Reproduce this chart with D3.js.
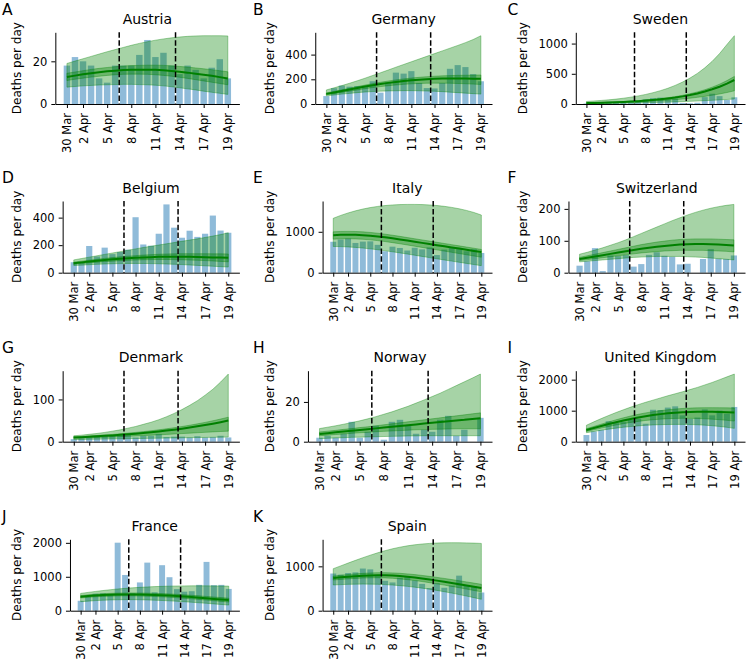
<!DOCTYPE html>
<html><head><meta charset="utf-8">
<script src="https://cdn.jsdelivr.net/npm/d3@7"></script>
<style>
body{margin:0;background:#fff}
svg{display:block}
text{font-family:"DejaVu Sans",sans-serif;fill:#000}
</style>
</head><body>
<svg id="chart" width="747" height="663"></svg>
<script>
// ---------------- data ----------------
const dayIndex = d3.range(21);
const tickIndex = [0, 2, 5, 8, 11, 14, 17, 20];
const tickLabels = ["30 Mar", "2 Apr", "5 Apr", "8 Apr", "11 Apr", "14 Apr", "17 Apr", "19 Apr"];
const dashedAt = [6.5, 13.5];

const countryNames = ["Austria", "Germany", "Sweden", "Belgium", "Italy", "Switzerland", "Denmark", "Norway", "United Kingdom", "France", "Spain"];
const panelLetters = ["A", "B", "C", "D", "E", "F", "G", "H", "I", "J", "K"];

const austriaDeaths = [18, 22, 20, 18, 12, 10, 18, 18, 18, 23, 30, 22, 24, 18, 14, 18, 16, 12, 17, 21, 12];
const austriaMean = [12.7, 13.3, 13.9, 14.4, 14.9, 15.3, 15.6, 15.9, 16.0, 16.1, 16.1, 16.0, 15.8, 15.5, 15.1, 14.7, 14.2, 13.7, 13.2, 12.6, 12.0];
const austriaInnerLo = [11.0, 11.6, 12.1, 12.6, 13.0, 13.4, 13.7, 13.9, 14.0, 14.0, 13.9, 13.7, 13.4, 13.0, 12.5, 12.0, 11.4, 10.8, 10.2, 9.6, 9.0];
const austriaInnerHi = [14.4, 15.0, 15.6, 16.2, 16.7, 17.1, 17.5, 17.8, 18.0, 18.1, 18.2, 18.2, 18.1, 17.9, 17.6, 17.3, 16.9, 16.5, 16.1, 15.6, 15.1];
const austriaOuterLo = [7.9, 8.2, 8.5, 8.7, 8.9, 9.0, 9.1, 9.2, 9.2, 9.1, 9.0, 8.8, 8.5, 8.1, 7.6, 7.1, 6.6, 6.0, 5.5, 5.0, 4.5];
const austriaOuterHi = [19.0, 20.1, 21.2, 22.3, 23.4, 24.5, 25.5, 26.5, 27.5, 28.4, 29.2, 29.9, 30.5, 31.0, 31.4, 31.7, 31.9, 32.0, 32.0, 32.0, 31.9];
const austriaTicks = [0, 20];

const germanyDeaths = [64, 128, 149, 140, 145, 141, 184, 92, 173, 254, 246, 266, 171, 129, 126, 170, 285, 315, 299, 242, 184];
const germanyMean = [82, 93, 105, 117, 129, 141, 152, 162, 171, 179, 186, 192, 197, 201, 204, 206, 207, 207, 206, 205, 204];
const germanyInnerLo = [74, 84, 94, 104, 114, 124, 133, 141, 148, 154, 159, 163, 166, 168, 169, 169, 168, 166, 164, 161, 158];
const germanyInnerHi = [90, 102, 115, 128, 141, 153, 165, 176, 186, 195, 203, 210, 216, 221, 225, 228, 230, 232, 233, 234, 235];
const germanyOuterLo = [66, 73, 80, 86, 92, 97, 101, 104, 106, 107, 108, 108, 107, 105, 103, 100, 96, 92, 88, 84, 80];
const germanyOuterHi = [114, 131, 149, 168, 188, 209, 231, 253, 275, 298, 320, 342, 364, 386, 408, 430, 452, 474, 497, 522, 553];
const germanyTicks = [0, 200, 400];

const swedenDeaths = [8, 15, 20, 35, 30, 25, 30, 40, 76, 96, 106, 77, 90, 17, 12, 20, 114, 170, 130, 67, 111];
const swedenMean = [15, 18, 21, 25, 29, 34, 40, 47, 56, 66, 77, 91, 107, 126, 149, 175, 206, 243, 286, 337, 397];
const swedenInnerLo = [12, 14, 17, 20, 23, 27, 31, 36, 42, 48, 55, 63, 72, 83, 96, 110, 126, 145, 166, 190, 218];
const swedenInnerHi = [17, 20, 24, 28, 33, 39, 46, 54, 64, 75, 88, 104, 122, 144, 170, 200, 236, 278, 328, 387, 456];
const swedenOuterLo = [6, 7, 8, 10, 12, 14, 16, 18, 21, 24, 27, 31, 35, 39, 44, 49, 55, 61, 68, 75, 82];
const swedenOuterHi = [42, 50, 59, 69, 81, 96, 113, 134, 158, 187, 221, 260, 308, 363, 429, 506, 598, 706, 834, 985, 1130];
const swedenTicks = [0, 500, 1000];

const belgiumDeaths = [76, 78, 194, 118, 182, 135, 150, 167, 403, 205, 196, 283, 496, 327, 254, 305, 260, 283, 415, 306, 290];
const belgiumMean = [69, 75, 81, 87, 92, 97, 101, 105, 108, 111, 113, 115, 116, 116, 116, 115, 114, 113, 111, 110, 108];
const belgiumInnerLo = [61, 66, 71, 76, 80, 84, 87, 90, 92, 94, 95, 96, 96, 95, 94, 92, 90, 88, 85, 82, 79];
const belgiumInnerHi = [77, 84, 91, 98, 104, 110, 115, 120, 124, 128, 131, 134, 136, 137, 138, 138, 138, 138, 137, 137, 136];
const belgiumOuterLo = [52, 55, 58, 61, 63, 65, 66, 67, 67, 67, 66, 65, 63, 61, 59, 56, 53, 50, 47, 44, 41];
const belgiumOuterHi = [93, 103, 113, 123, 133, 143, 153, 163, 173, 183, 192, 201, 210, 219, 228, 237, 246, 256, 266, 277, 290];
const belgiumTicks = [0, 200, 400];

const italyDeaths = [756, 812, 837, 727, 760, 766, 681, 525, 636, 604, 542, 610, 570, 619, 431, 566, 602, 578, 525, 575, 482];
const italyMean = [917, 925, 928, 926, 918, 905, 887, 865, 840, 813, 785, 757, 729, 701, 673, 645, 617, 589, 561, 533, 505];
const italyInnerLo = [820, 828, 830, 826, 817, 803, 784, 761, 735, 707, 678, 648, 618, 588, 558, 528, 498, 468, 438, 408, 378];
const italyInnerHi = [1000, 1008, 1010, 1007, 998, 984, 965, 942, 916, 888, 859, 830, 801, 772, 743, 714, 685, 656, 627, 598, 568];
const italyOuterLo = [640, 638, 630, 618, 602, 583, 561, 537, 511, 484, 456, 427, 398, 369, 340, 311, 283, 255, 227, 199, 172];
const italyOuterHi = [1330, 1400, 1460, 1512, 1556, 1592, 1620, 1641, 1656, 1665, 1669, 1669, 1665, 1656, 1642, 1622, 1596, 1563, 1522, 1472, 1410];
const italyTicks = [0, 1000];

const switzerlandDeaths = [22, 36, 77, 5, 54, 52, 55, 19, 27, 56, 64, 53, 50, 26, 28, 0, 43, 74, 44, 43, 54];
const switzerlandMean = [43, 47, 51, 55, 59, 63, 67, 71, 75, 78, 81, 84, 86, 88, 89, 90, 90, 89, 88, 87, 85];
const switzerlandInnerLo = [38, 41, 44, 47, 50, 53, 56, 59, 62, 64, 66, 68, 69, 70, 70, 70, 70, 69, 68, 67, 65];
const switzerlandInnerHi = [48, 53, 58, 63, 68, 73, 78, 83, 88, 92, 96, 99, 102, 104, 105, 106, 106, 106, 105, 104, 103];
const switzerlandOuterLo = [34, 36, 38, 40, 42, 44, 46, 48, 49, 50, 51, 51, 51, 51, 50, 49, 48, 46, 44, 42, 40];
const switzerlandOuterHi = [58, 64, 71, 78, 86, 94, 103, 113, 123, 133, 143, 153, 163, 172, 181, 189, 196, 202, 207, 211, 214];
const switzerlandTicks = [0, 100, 200];

const denmarkDeaths = [6, 8, 10, 12, 15, 14, 17, 18, 10, 14, 14, 18, 11, 12, 12, 10, 13, 10, 11, 14, 10];
const denmarkMean = [10, 10.8, 11.7, 12.7, 13.8, 14.9, 16.2, 17.6, 19.0, 20.6, 22.4, 24.2, 26.3, 28.5, 30.9, 33.5, 36.3, 39.3, 42.6, 46.2, 50];
const denmarkInnerLo = [8, 8.6, 9.2, 9.8, 10.5, 11.2, 12, 12.8, 13.6, 14.5, 15.4, 16.3, 17.2, 18.2, 19.2, 20.2, 21.2, 22.2, 23.2, 24.1, 25];
const denmarkInnerHi = [11.5, 12.4, 13.4, 14.6, 15.9, 17.2, 18.7, 20.3, 22, 23.9, 25.9, 28.1, 30.5, 33.1, 35.9, 38.9, 42.2, 45.7, 49.5, 53.6, 58];
const denmarkOuterLo = [5, 5.3, 5.6, 5.9, 6.2, 6.5, 6.8, 7.1, 7.4, 7.7, 8, 8.3, 8.6, 8.9, 9.2, 9.5, 9.8, 10.1, 10.4, 10.7, 11];
const denmarkOuterHi = [14, 15.5, 17.5, 19.5, 22, 25, 28, 32, 36, 41, 46, 52, 59, 67, 76, 86, 97, 110, 124, 141, 160];
const denmarkTicks = [0, 100];

const norwayDeaths = [2, 3, 2, 4, 10, 2, 5, 8, 1, 10, 11, 8, 4, 6, 5, 11, 13, 3, 6, 0, 12];
const norwayMean = [3.9, 4.3, 4.7, 5.1, 5.5, 5.9, 6.3, 6.7, 7.1, 7.5, 7.9, 8.3, 8.7, 9.1, 9.5, 9.9, 10.3, 10.7, 11.0, 11.4, 11.8];
const norwayInnerLo = [3.0, 3.3, 3.6, 3.9, 4.2, 4.5, 4.7, 5.0, 5.2, 5.4, 5.6, 5.8, 6.0, 6.1, 6.2, 6.3, 6.4, 6.5, 6.5, 6.5, 6.5];
const norwayInnerHi = [4.9, 5.3, 5.7, 6.2, 6.6, 7.1, 7.5, 8.0, 8.5, 9.0, 9.5, 10.0, 10.5, 11.0, 11.5, 12.0, 12.5, 13.0, 13.5, 14.0, 14.5];
const norwayOuterLo = [1.5, 1.7, 1.9, 2.0, 2.2, 2.3, 2.4, 2.5, 2.6, 2.7, 2.8, 2.9, 2.9, 3.0, 3.0, 3.0, 3.0, 3.0, 3.0, 3.0, 3.0];
const norwayOuterHi = [6.6, 7.3, 8.0, 8.8, 9.6, 10.5, 11.5, 12.6, 13.8, 15.0, 16.4, 17.8, 19.4, 21.0, 22.7, 24.4, 26.3, 28.2, 30.1, 32.0, 34.0];
const norwayTicks = [0, 20];

const ukDeaths = [215, 330, 380, 660, 600, 640, 700, 740, 580, 1030, 1020, 1100, 1140, 850, 740, 780, 1040, 850, 1000, 900, 1120];
const ukMean = [376, 440, 505, 568, 628, 684, 735, 781, 822, 858, 889, 914, 934, 949, 959, 964, 965, 962, 956, 948, 938];
const ukInnerLo = [330, 385, 438, 490, 538, 582, 621, 655, 684, 708, 727, 741, 750, 754, 753, 748, 739, 726, 709, 688, 665];
const ukInnerHi = [420, 492, 565, 637, 706, 770, 829, 882, 928, 968, 1002, 1030, 1053, 1071, 1083, 1091, 1096, 1097, 1095, 1091, 1085];
const ukOuterLo = [290, 330, 370, 405, 437, 465, 490, 510, 527, 540, 549, 555, 558, 558, 554, 546, 533, 515, 492, 463, 430];
const ukOuterHi = [530, 640, 745, 845, 940, 1030, 1115, 1195, 1270, 1340, 1410, 1480, 1545, 1610, 1680, 1750, 1830, 1910, 2000, 2090, 2180];
const ukTicks = [0, 1000, 2000];

const franceDeaths = [292, 418, 499, 509, 471, 2004, 1053, 518, 833, 1417, 541, 1341, 987, 635, 561, 574, 762, 1438, 753, 761, 642];
const franceMean = [410, 430, 447, 460, 470, 477, 480, 480, 477, 472, 465, 456, 445, 432, 417, 401, 384, 366, 348, 330, 312];
const franceInnerLo = [375, 393, 408, 420, 429, 435, 437, 436, 432, 426, 418, 408, 396, 382, 366, 349, 331, 312, 293, 274, 255];
const franceInnerHi = [445, 467, 486, 500, 511, 519, 523, 524, 522, 518, 512, 504, 494, 482, 468, 453, 437, 420, 403, 386, 369];
const franceOuterLo = [265, 282, 297, 308, 317, 322, 325, 325, 322, 317, 310, 301, 290, 278, 264, 249, 233, 217, 200, 183, 166];
const franceOuterHi = [510, 540, 568, 594, 618, 640, 658, 674, 688, 700, 710, 718, 724, 728, 731, 733, 733, 732, 730, 728, 725];
const franceTicks = [0, 1000, 2000];

const spainDeaths = [838, 812, 849, 864, 950, 932, 809, 674, 637, 743, 757, 683, 605, 510, 619, 517, 567, 790, 565, 550, 410];
const spainMean = [735, 752, 767, 779, 789, 796, 800, 798, 791, 780, 765, 747, 726, 703, 678, 652, 625, 597, 568, 539, 510];
const spainInnerLo = [690, 705, 718, 728, 736, 741, 743, 739, 730, 717, 700, 680, 657, 632, 605, 577, 548, 518, 487, 456, 425];
const spainInnerHi = [780, 799, 816, 830, 842, 851, 857, 857, 852, 843, 830, 814, 795, 774, 751, 727, 702, 676, 649, 622, 595];
const spainOuterLo = [580, 588, 594, 598, 600, 599, 595, 588, 578, 565, 549, 530, 508, 484, 457, 428, 397, 364, 330, 294, 256];
const spainOuterHi = [947, 1010, 1073, 1135, 1195, 1252, 1305, 1353, 1396, 1432, 1462, 1486, 1504, 1517, 1526, 1531, 1533, 1532, 1529, 1524, 1517];
const spainTicks = [0, 1000];

// ---------------- table built from the arrays ----------------
const series = [
  [austriaDeaths, austriaMean, austriaInnerLo, austriaInnerHi, austriaOuterLo, austriaOuterHi, austriaTicks],
  [germanyDeaths, germanyMean, germanyInnerLo, germanyInnerHi, germanyOuterLo, germanyOuterHi, germanyTicks],
  [swedenDeaths, swedenMean, swedenInnerLo, swedenInnerHi, swedenOuterLo, swedenOuterHi, swedenTicks],
  [belgiumDeaths, belgiumMean, belgiumInnerLo, belgiumInnerHi, belgiumOuterLo, belgiumOuterHi, belgiumTicks],
  [italyDeaths, italyMean, italyInnerLo, italyInnerHi, italyOuterLo, italyOuterHi, italyTicks],
  [switzerlandDeaths, switzerlandMean, switzerlandInnerLo, switzerlandInnerHi, switzerlandOuterLo, switzerlandOuterHi, switzerlandTicks],
  [denmarkDeaths, denmarkMean, denmarkInnerLo, denmarkInnerHi, denmarkOuterLo, denmarkOuterHi, denmarkTicks],
  [norwayDeaths, norwayMean, norwayInnerLo, norwayInnerHi, norwayOuterLo, norwayOuterHi, norwayTicks],
  [ukDeaths, ukMean, ukInnerLo, ukInnerHi, ukOuterLo, ukOuterHi, ukTicks],
  [franceDeaths, franceMean, franceInnerLo, franceInnerHi, franceOuterLo, franceOuterHi, franceTicks],
  [spainDeaths, spainMean, spainInnerLo, spainInnerHi, spainOuterLo, spainOuterHi, spainTicks]
];
const panels = countryNames.map((name, k) => {
  const s = series[k];
  return {name, letter: panelLetters[k], deaths: s[0], mean: s[1], innerLo: s[2], innerHi: s[3], outerLo: s[4], outerHi: s[5], ticks: s[6]};
});

// ---------------- layout ----------------
const colBase = [40.7, 293.3, 546.5];
const colRight = [239.4, 492.0, 745.0];
const colLetterX = [2, 253, 507.5];
const rowTop = [32.3, 201.0, 370.7, 539.3];
const rowBottom = [104.0, 272.7, 441.7, 610.7];
const tickFont = 11.5, labelFont = 12, titleFont = 14, letterFont = 15.5;

const svg = d3.select("#chart");
const measure = svg.append("text").style("font-size", tickFont + "px");
function textWidth(s) { measure.text(s); return measure.node().getComputedTextLength(); }

const green = "#008000";
const blue = "#1f77b4";

panels.forEach((p, k) => {
  const col = k % 3, row = Math.floor(k / 3);
  const top = rowTop[row], bottom = rowBottom[row];
  const maxLabel = d3.max(p.ticks, t => textWidth(String(t)));
  const left = colBase[col] + maxLabel;
  const right = colRight[col];

  const x = d3.scaleLinear().domain([-1.44, 21.44]).range([left, right]);
  const yMax = 1.05 * d3.max([...p.deaths, ...p.outerHi]);
  const y = d3.scaleLinear().domain([0, yMax]).range([bottom, top]);

  const g = svg.append("g");

  // bars
  g.selectAll("rect.bar").data(p.deaths).join("rect")
    .attr("class", "bar")
    .attr("x", (d, i) => x(i - 0.4))
    .attr("width", (d, i) => x(i + 0.4) - x(i - 0.4))
    .attr("y", d => y(d))
    .attr("height", d => y(0) - y(d))
    .attr("fill", blue).attr("fill-opacity", 0.5);

  // outer band
  const outer = d3.area().x((d, i) => x(i)).y0((d, i) => y(p.outerLo[i])).y1((d, i) => y(p.outerHi[i]));
  g.append("path").datum(dayIndex).attr("d", outer)
    .attr("fill", green).attr("fill-opacity", 0.35)
    .attr("stroke", green).attr("stroke-opacity", 0.35).attr("stroke-width", 1);

  // inner band
  const inner = d3.area().x((d, i) => x(i)).y0((d, i) => y(p.innerLo[i])).y1((d, i) => y(p.innerHi[i]));
  g.append("path").datum(dayIndex).attr("d", inner)
    .attr("fill", green).attr("fill-opacity", 0.35)
    .attr("stroke", green).attr("stroke-opacity", 0.35).attr("stroke-width", 1);

  // mean line
  const line = d3.line().x((d, i) => x(i)).y((d, i) => y(p.mean[i]));
  g.append("path").datum(dayIndex).attr("d", line)
    .attr("fill", "none").attr("stroke", green).attr("stroke-width", 2);

  // dashed vertical lines
  g.selectAll("line.cut").data(dashedAt).join("line")
    .attr("class", "cut")
    .attr("x1", d => x(d)).attr("x2", d => x(d))
    .attr("y1", top).attr("y2", bottom)
    .attr("stroke", "#000").attr("stroke-width", 1.5).attr("stroke-dasharray", "5.5,2.4");

  // y axis
  const ya = g.append("g").attr("transform", `translate(${left},0)`)
    .call(d3.axisLeft(y).tickValues(p.ticks).tickFormat(d3.format("d")).tickSize(4).tickPadding(4).tickSizeOuter(0));
  ya.selectAll("text").style("font-size", tickFont + "px").style("font-family", '"DejaVu Sans",sans-serif');

  // x axis
  const xa = g.append("g").attr("transform", `translate(0,${bottom})`)
    .call(d3.axisBottom(x).tickValues(tickIndex).tickFormat((d, i) => tickLabels[i]).tickSize(4).tickSizeOuter(0));
  xa.selectAll("text")
    .attr("transform", "rotate(-90)")
    .attr("x", -9).attr("y", 0).attr("dy", "0.35em")
    .style("text-anchor", "end")
    .style("font-size", tickFont + "px").style("font-family", '"DejaVu Sans",sans-serif');

  [ya, xa].forEach(a => {
    a.select(".domain").attr("stroke", "#000").attr("stroke-width", 1);
    a.selectAll(".tick line").attr("stroke", "#000").attr("stroke-width", 1);
  });

  // title
  g.append("text").attr("x", (left + right) / 2).attr("y", top - 8.5)
    .attr("text-anchor", "middle").style("font-size", titleFont + "px").text(p.name);

  // panel letter
  g.append("text").attr("x", colLetterX[col]).attr("y", top - 17.8)
    .style("font-size", letterFont + "px").text(p.letter);

  // y label
  g.append("text")
    .attr("transform", `translate(${colBase[col] - 19.3},${(top + bottom) / 2}) rotate(-90)`)
    .attr("text-anchor", "middle").style("font-size", labelFont + "px").text("Deaths per day");
});
measure.remove();
</script>
</body></html>
